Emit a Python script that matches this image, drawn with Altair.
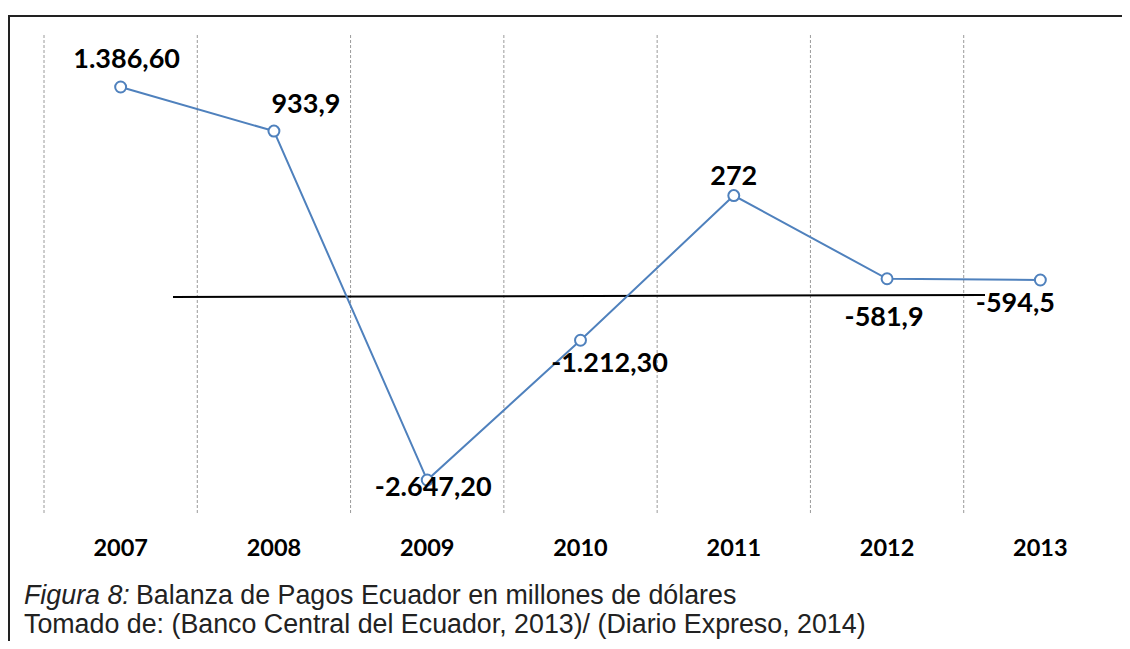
import altair as alt
import pandas as pd

years = ["2007", "2008", "2009", "2010", "2011", "2012", "2013"]
values = [1386.6, 933.9, -2647.2, -1212.3, 272.0, -581.9, -594.5]
labels = ["1.386,60", "933,9", "-2.647,20", "-1.212,30", "272", "-581,9", "-594,5"]
ref_line = [-769, -748]
caption_italic = "Figura 8:"
caption_rest = "Balanza de Pagos Ecuador en millones de dólares"
caption_line2 = "Tomado de: (Banco Central del Ecuador, 2013)/ (Diario Expreso, 2014)"

# label placement (pixels relative to each point)
label_offsets = {
    "2007": (6, -27), "2008": (32, -26), "2009": (6, 8), "2010": (29, 24),
    "2011": (0, -19), "2012": (-3, 39), "2013": (-25, 24),
}

df = pd.DataFrame({"year": years, "value": values, "label": labels})

W, H = 1073, 480
BLUE = "#4F81BD"

xscale = alt.Scale(type="band", paddingInner=0, paddingOuter=0, domain=years)
yscale = alt.Scale(domain=[-3006, 1920], nice=False, zero=False)

xenc = alt.X("year:N", scale=xscale, bandPosition=0.5, axis=None)
yenc = alt.Y("value:Q", scale=yscale, axis=None)

base = alt.Chart(df)

grid = base.mark_rule(color="#9a9a9a", strokeWidth=1, strokeDash=[3, 2]).encode(
    x=alt.X("year:N", scale=xscale, bandPosition=0, axis=None),
)

line = base.mark_line(color=BLUE, strokeWidth=2).encode(x=xenc, y=yenc)

pts = base.mark_point(shape="circle", filled=True, fill="white", stroke=BLUE,
                      strokeWidth=2, size=120, opacity=1).encode(x=xenc, y=yenc)

refdf = pd.DataFrame({"y1": [ref_line[0]], "y2": [ref_line[1]]})
ref = alt.Chart(refdf).mark_rule(color="#000", strokeWidth=2).encode(
    y=alt.Y("y1:Q", scale=yscale, axis=None),
    y2="y2:Q",
    x=alt.value(129), x2=alt.value(941),
)

year_text = base.mark_text(font="Lato", fontWeight="bold", fontSize=23.5, color="#000",
                           baseline="middle", align="center").encode(
    x=xenc, y=alt.value(514), text="year:N")

label_layers = []
for yr in years:
    dx, dy = label_offsets[yr]
    label_layers.append(
        base.transform_filter(alt.datum.year == yr).mark_text(
            font="Lato", fontWeight="bold", fontSize=27, color="#000",
            baseline="middle", align="center", dx=dx, dy=dy,
        ).encode(x=xenc, y=yenc, text="label:N")
    )

capdf = pd.DataFrame({"a": [0]})
cap1 = alt.Chart(capdf).mark_text(font="Liberation Sans", fontSize=26.8, fontStyle="italic",
                                  color="#222", align="left", baseline="alphabetic").encode(
    x=alt.value(-20), y=alt.value(569), text=alt.value(caption_italic))
cap2 = alt.Chart(capdf).mark_text(font="Liberation Sans", fontSize=26.8,
                                  color="#222", align="left", baseline="alphabetic").encode(
    x=alt.value(92), y=alt.value(569), text=alt.value(caption_rest))
cap3 = alt.Chart(capdf).mark_text(font="Liberation Sans", fontSize=26.8,
                                  color="#222", align="left", baseline="alphabetic").encode(
    x=alt.value(-20), y=alt.value(598), text=alt.value(caption_line2))

border_top = alt.Chart(capdf).mark_rule(color="#222", strokeWidth=2).encode(
    x=alt.value(-36), x2=alt.value(1100), y=alt.value(-19))
border_left = alt.Chart(capdf).mark_rule(color="#222", strokeWidth=2).encode(
    x=alt.value(-35), y=alt.value(-19), y2=alt.value(620))

chart = alt.layer(grid, ref, line, pts, year_text, *label_layers, cap1, cap2, cap3,
                  border_top, border_left).properties(
    width=W, height=H,
    autosize=alt.AutoSizeParams(type="none"),
    padding={"left": 36, "top": 27, "right": 5, "bottom": 126},
).configure_view(stroke=None)

chart.save("out.html", embed_options={"renderer": "svg", "actions": False})
